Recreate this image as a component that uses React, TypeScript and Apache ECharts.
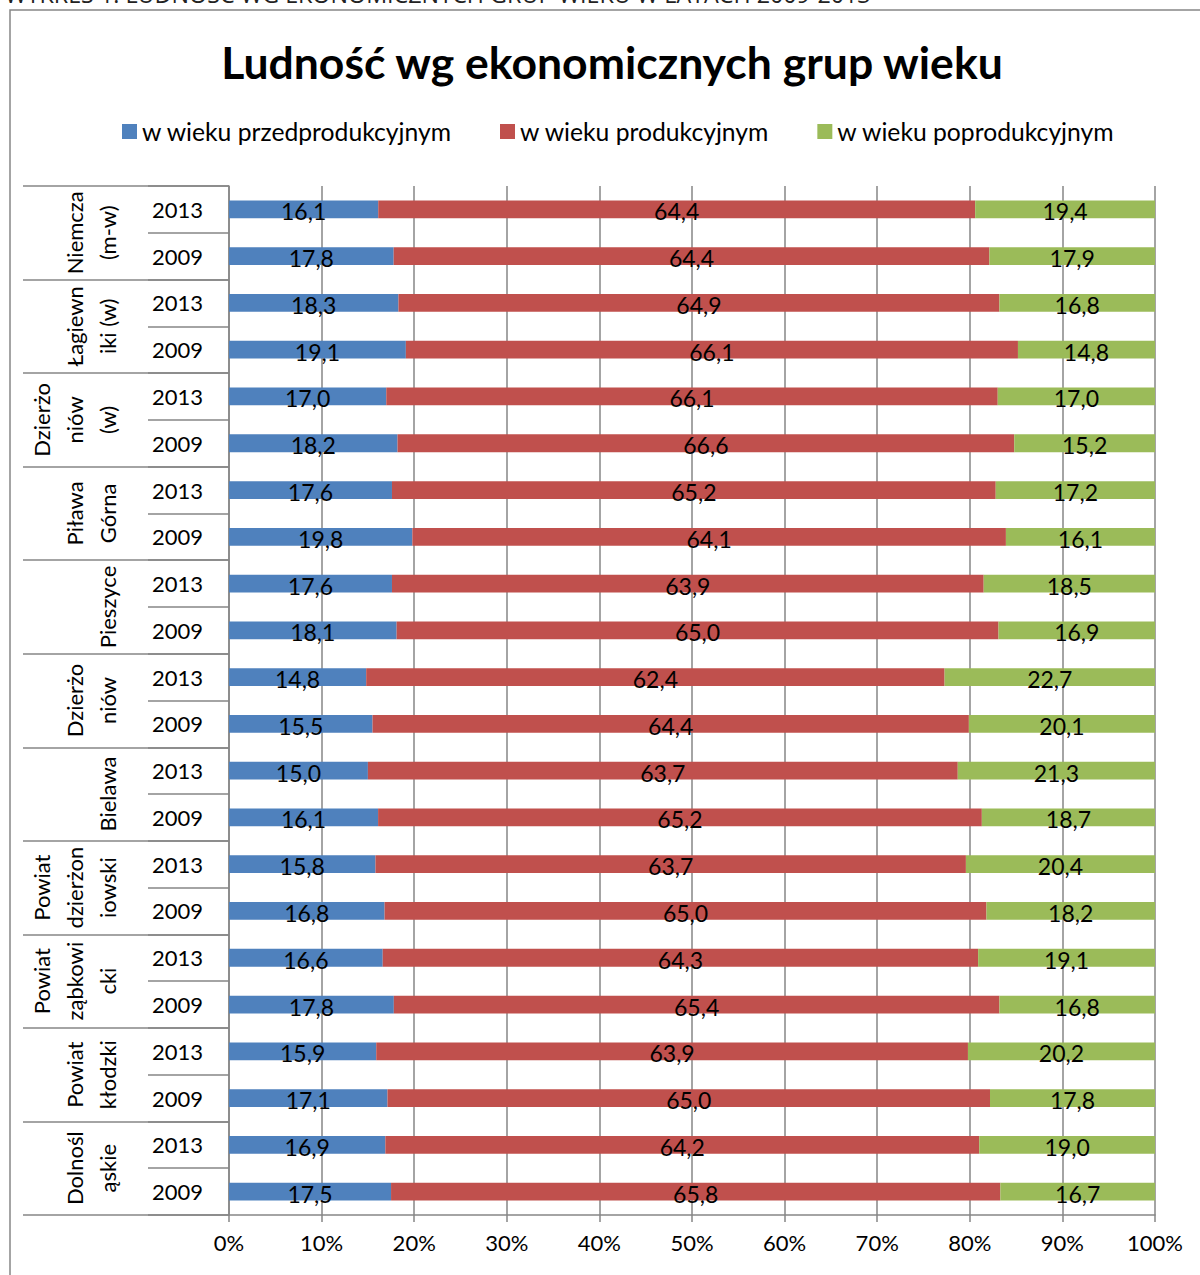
import React, { useEffect, useRef } from "react";
import * as echarts from "echarts";

const groups = [
  "Niemcza\n(m-w)",
  "Łagiewn\niki (w)",
  "Dzierżo\nniów\n(w)",
  "Piława\nGórna",
  "Pieszyce",
  "Dzierżo\nniów",
  "Bielawa",
  "Powiat\ndzierżon\niowski",
  "Powiat\nząbkowi\ncki",
  "Powiat\nkłodzki",
  "Dolnośl\nąskie",
];
const years = ["2013", "2009"];
const rowYears = groups.flatMap(() => years);

const preProd = [16.1, 17.8, 18.3, 19.1, 17.0, 18.2, 17.6, 19.8, 17.6, 18.1, 14.8, 15.5, 15.0, 16.1, 15.8, 16.8, 16.6, 17.8, 15.9, 17.1, 16.9, 17.5];
const prod = [64.4, 64.4, 64.9, 66.1, 66.1, 66.6, 65.2, 64.1, 63.9, 65.0, 62.4, 64.4, 63.7, 65.2, 63.7, 65.0, 64.3, 65.4, 63.9, 65.0, 64.2, 65.8];
const postProd = [19.4, 17.9, 16.8, 14.8, 17.0, 15.2, 17.2, 16.1, 18.5, 16.9, 22.7, 20.1, 21.3, 18.7, 20.4, 18.2, 19.1, 16.8, 20.2, 17.8, 19.0, 16.7];

const seriesNames = ["w wieku przedprodukcyjnym", "w wieku produkcyjnym", "w wieku poprodukcyjnym"];
const seriesColors = ["#4F81BD", "#C0504D", "#9BBB59"];
const xTicks = [0, 10, 20, 30, 40, 50, 60, 70, 80, 90, 100];

const FONT = "Lato";
const GRAY = "#868686";

export default function App() {
  const ref = useRef<HTMLDivElement>(null);
  useEffect(() => {
    document.body.style.margin = "0";
    if (!ref.current) return;
    const chart = echarts.init(ref.current, undefined, { renderer: "svg" });
    const raws = [preProd, prod, postProd];
    const totals = preProd.map((_, i) => preProd[i] + prod[i] + postProd[i]);
    const series = raws.map((arr, si) => ({
      name: seriesNames[si],
      type: "bar",
      stack: "total",
      barWidth: "38%",
      yAxisIndex: 0,
      itemStyle: { color: seriesColors[si] },
      label: {
        show: true,
        position: "inside",
        color: "#000",
        fontFamily: FONT,
        fontSize: 23,
        offset: [0, 2],
        formatter: (p: any) => arr[p.dataIndex].toFixed(1).replace(".", ","),
      },
      data: arr.map((v, i) => (v / totals[i]) * 100),
    }));
    chart.setOption({
      animation: false,
      textStyle: { fontFamily: FONT },
      title: {
        text: "Ludność wg ekonomicznych grup wieku",
        left: 607,
        textAlign: "center",
        top: 34,
        textStyle: { fontFamily: FONT, fontSize: 44.5, fontWeight: "bold", color: "#000" },
      },
      legend: {
        left: 117,
        top: 114,
        icon: "rect",
        itemWidth: 15,
        itemHeight: 15,
        itemGap: 48,
        textStyle: { fontFamily: FONT, fontSize: 24.7, color: "#000" },
        data: seriesNames,
      },
      graphic: [
        {
          type: "rect",
          shape: { x: 10, y: 10, width: 1300, height: 1400 },
          style: { fill: "none", stroke: GRAY, lineWidth: 1.5 },
          silent: true,
        },
        {
          type: "text",
          left: 5,
          top: -18,
          style: {
            text: "WYKRES 1. LUDNOŚĆ WG EKONOMICZNYCH GRUP WIEKU W LATACH 2009-2013",
            fontFamily: "Open Sans",
            fontSize: 23.3,
            fill: "#222",
          },
        },
      ],
      grid: { left: 229, right: 45, top: 186, bottom: 60, containLabel: false },
      xAxis: {
        type: "value",
        min: 0,
        max: 100,
        interval: 10,
        axisLine: { show: true, lineStyle: { color: GRAY, width: 1.5 } },
        axisTick: { show: true, length: 7, lineStyle: { color: GRAY, width: 1.5 } },
        splitLine: { show: true, lineStyle: { color: GRAY, width: 1.5 } },
        axisLabel: {
          fontFamily: FONT,
          fontSize: 22,
          color: "#000",
          margin: 16,
          formatter: (v: number) => (xTicks.includes(v) ? v + "%" : ""),
        },
      },
      yAxis: [
        {
          type: "category",
          data: rowYears,
          inverse: true,
          position: "left",
          axisLine: { show: true, lineStyle: { color: GRAY, width: 1.5 } },
          axisTick: { show: true, length: 81, lineStyle: { color: GRAY, width: 1.5 } },
          axisLabel: { fontFamily: FONT, fontSize: 22, color: "#000", margin: 26 },
        },
        {
          type: "category",
          data: groups,
          inverse: true,
          position: "left",
          offset: 0,
          axisLine: { show: false },
          axisTick: { show: true, length: 206, lineStyle: { color: GRAY, width: 1.5 } },
          axisLabel: {
            rotate: 90,
            fontFamily: FONT,
            fontSize: 22,
            lineHeight: 33,
            color: "#000",
            margin: 105,
            interval: 0,
          },
        },
      ],
      series,
    });
    return () => chart.dispose();
  }, []);
  return <div ref={ref} style={{ width: 1200, height: 1275 }} />;
}
